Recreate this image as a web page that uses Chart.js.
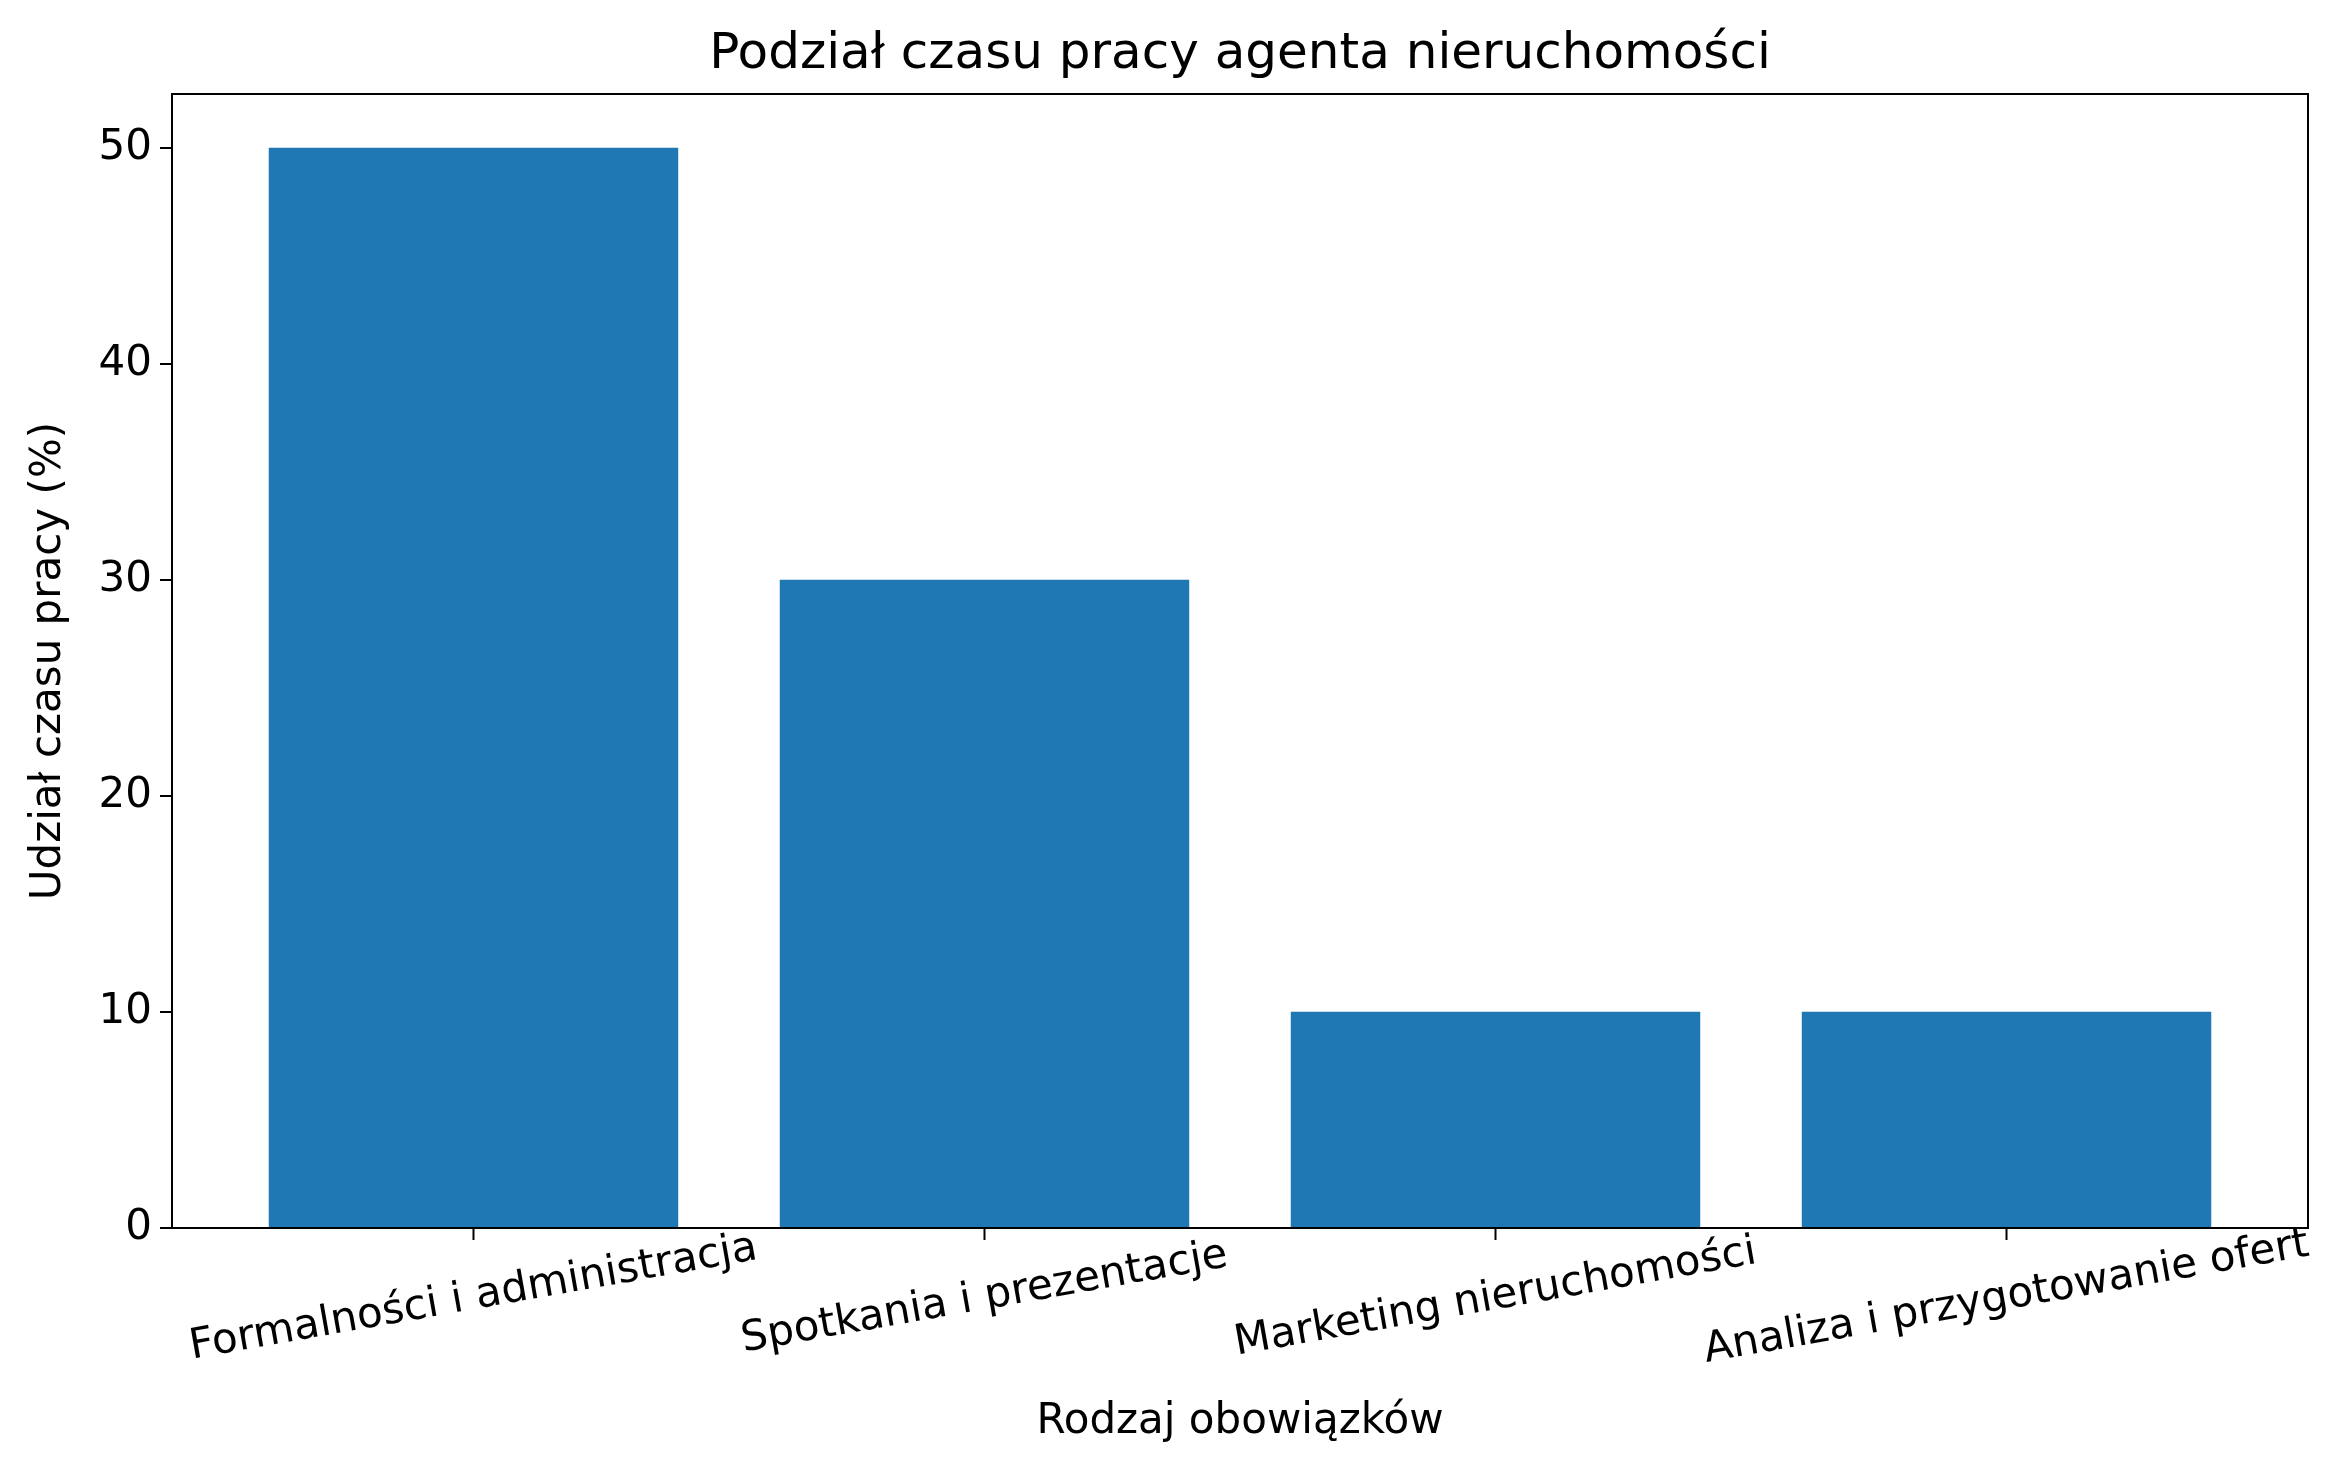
<!DOCTYPE html>
<html><head><meta charset="utf-8">
<script src="https://cdn.jsdelivr.net/npm/chart.js@4/dist/chart.umd.min.js"></script>
<style>html,body{margin:0;padding:0;background:#fff}</style>
</head><body>
<canvas id="c" width="2330" height="1466" style="width:2330px;height:1466px"></canvas>
<script>
const categories = ["Formalności i administracja","Spotkania i prezentacje","Marketing nieruchomości","Analiza i przygotowanie ofert"];
const values = [50, 30, 10, 10];
const yTicks = [0, 10, 20, 30, 40, 50];
const FONT = "'DejaVu Sans', sans-serif";

const deco = {
  id: 'deco',
  afterDraw(chart) {
    const ctx = chart.ctx, a = chart.chartArea, xs = chart.scales.x;
    ctx.save();
    ctx.strokeStyle = '#000'; ctx.lineWidth = 2;
    ctx.strokeRect(a.left, a.top, a.right - a.left, a.bottom - a.top);
    ctx.fillStyle = '#000';
    ctx.font = '50px ' + FONT; ctx.textAlign = 'center'; ctx.textBaseline = 'middle';
    ctx.fillText('Podział czasu pracy agenta nieruchomości', (a.left + a.right) / 2, 55);
    ctx.font = '42px ' + FONT;
    ctx.fillText('Rodzaj obowiązków', (a.left + a.right) / 2, 1422);
    categories.forEach((c, i) => {
      const x = xs.getPixelForValue(i);
      ctx.beginPath(); ctx.moveTo(x, a.bottom); ctx.lineTo(x, a.bottom + 12); ctx.stroke();
      ctx.save(); ctx.translate(x, a.bottom + 70); ctx.rotate(-10 * Math.PI / 180);
      ctx.fillText(c, 0, 0); ctx.restore();
    });
    ctx.save(); ctx.translate(49, (a.top + a.bottom) / 2); ctx.rotate(-Math.PI / 2);
    ctx.fillText('Udział czasu pracy (%)', 0, 0); ctx.restore();
    ctx.restore();
  }
};

new Chart(document.getElementById('c'), {
  type: 'bar',
  data: { datasets: [{ data: values.map((v, i) => ({ x: i, y: v })), backgroundColor: '#1f77b4',
    barThickness: (c) => { const xs = c.chart.scales.x; return xs ? 0.8 * (xs.getPixelForValue(1) - xs.getPixelForValue(0)) : 10; } }] },
  options: {
    responsive: false, animation: false,
    layout: { padding: { left: 0, right: 22, top: 94, bottom: 0 } },
    plugins: { legend: { display: false }, tooltip: { enabled: false } },
    scales: {
      x: { type: 'linear', offset: false, min: -0.59, max: 3.59, grid: { display: false }, border: { display: false },
           ticks: { display: false }, afterFit(s) { s.height = 238; } },
      y: { min: 0, max: 52.5, afterBuildTicks(s) { s.ticks = yTicks.map(v => ({ value: v })); },
           grid: { drawOnChartArea: false, drawTicks: true, tickLength: 12, color: '#000', lineWidth: 2 },
           border: { display: false },
           ticks: { color: '#000', font: { family: FONT, size: 42 }, padding: 8 },
           afterFit(s) { s.width = 172; } }
    }
  },
  plugins: [deco]
});
</script>
</body></html>
